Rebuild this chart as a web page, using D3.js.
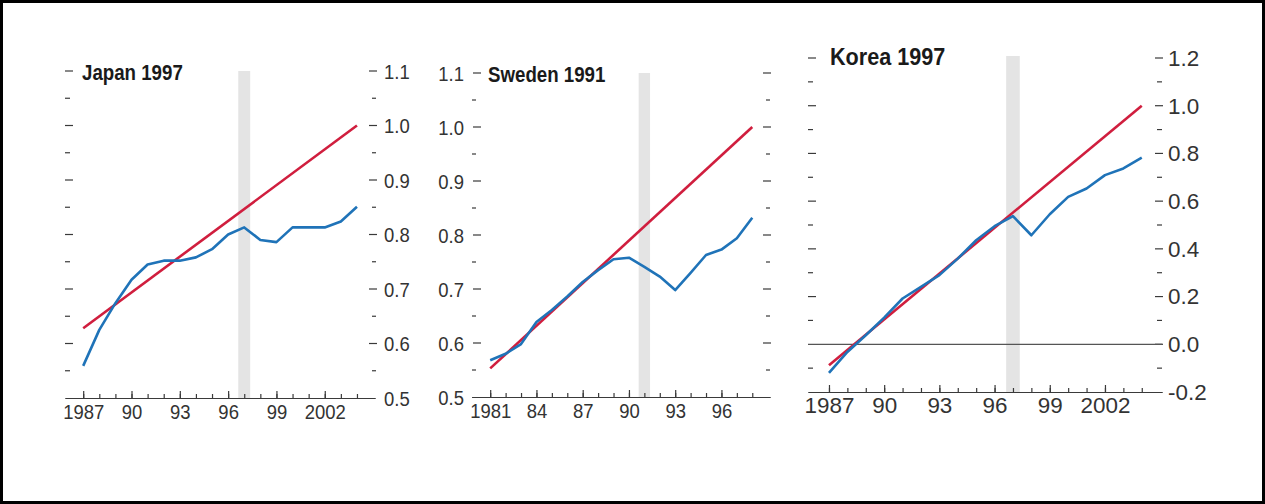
<!DOCTYPE html>
<html>
<head>
<meta charset="utf-8">
<script src="https://cdn.jsdelivr.net/npm/d3@7"></script>
<style>
  html, body { margin: 0; padding: 0; background: #fff; }
  svg { display: block; }
  text { font-family: "Liberation Sans", Arial, sans-serif; }
</style>
</head>
<body>
<svg id="chart" width="1265" height="504"></svg>
<script>
// ---- Japan 1997 ----
const japanYears   = [1987,1988,1989,1990,1991,1992,1993,1994,1995,1996,1997,1998,1999,2000,2001,2002,2003,2004];
const japanActual  = [0.559,0.625,0.674,0.717,0.745,0.752,0.752,0.758,0.773,0.800,0.813,0.790,0.786,0.813,0.813,0.813,0.824,0.851];
const japanTrendYears = [1987, 2004];
const japanTrend      = [0.628, 1.0];
const japanXTicks     = [1987, 1990, 1993, 1996, 1999, 2002];
const japanXLabels    = ["1987", "90", "93", "96", "99", "2002"];
const japanYTicks     = [0.5, 0.6, 0.7, 0.8, 0.9, 1.0, 1.1];
const japanYLabels    = ["0.5", "0.6", "0.7", "0.8", "0.9", "1.0", "1.1"];

// ---- Sweden 1991 ----
const swedenYears  = [1981,1982,1983,1984,1985,1986,1987,1988,1989,1990,1991,1992,1993,1994,1995,1996,1997,1998];
const swedenActual = [0.568,0.580,0.598,0.639,0.661,0.686,0.713,0.735,0.755,0.758,0.741,0.723,0.698,0.730,0.763,0.773,0.794,0.832];
const swedenTrendYears = [1981, 1998];
const swedenTrend      = [0.553, 1.0];
const swedenXTicks     = [1981, 1984, 1987, 1990, 1993, 1996];
const swedenXLabels    = ["1981", "84", "87", "90", "93", "96"];
const swedenYTicks     = [0.5, 0.6, 0.7, 0.8, 0.9, 1.0, 1.1];
const swedenYLabels    = ["0.5", "0.6", "0.7", "0.8", "0.9", "1.0", "1.1"];

// ---- Korea 1997 ----
const koreaYears   = [1987,1988,1989,1990,1991,1992,1993,1994,1995,1996,1997,1998,1999,2000,2001,2002,2003,2004];
const koreaActual  = [-0.120,-0.032,0.038,0.112,0.192,0.241,0.290,0.359,0.436,0.495,0.537,0.457,0.545,0.618,0.653,0.709,0.737,0.782];
const koreaTrendYears = [1987, 2004];
const koreaTrend      = [-0.088, 1.0];
const koreaXTicks     = [1987, 1990, 1993, 1996, 1999, 2002];
const koreaXLabels    = ["1987", "90", "93", "96", "99", "2002"];
const koreaYTicks     = [-0.2, 0.0, 0.2, 0.4, 0.6, 0.8, 1.0, 1.2];
const koreaYLabels    = ["-0.2", "0.0", "0.2", "0.4", "0.6", "0.8", "1.0", "1.2"];

const RED = "#d01e3e", BLUE = "#1f73b8", SHADE = "#e4e4e4", INK = "#333", AXIS = "#3a3a3a";

const svg = d3.select("#chart");

// frame around the figure
svg.append("rect")
  .attr("x", 1.5).attr("y", 1.5).attr("width", 1262).attr("height", 501)
  .attr("fill", "#fff").attr("stroke", "#000").attr("stroke-width", 3);

function drawPanel(p) {
  const g = svg.append("g");
  const x = d3.scaleLinear().domain(p.xDomain).range(p.xRange);
  const y = d3.scaleLinear().domain(p.yDomain).range(p.yRange);
  const baseY = y(p.yDomain[0]);
  const sx = p.stretch;

  // crisis year band
  g.append("rect")
    .attr("x", x(p.crisis - 0.37))
    .attr("width", x(p.crisis + 0.37) - x(p.crisis - 0.37))
    .attr("y", y(p.yDomain[1]) - (p.bandExtra || 0))
    .attr("height", baseY - y(p.yDomain[1]) + (p.bandExtra || 0))
    .attr("fill", SHADE);

  // y dashes: major at labelled values, minor half-way between them
  const majors = p.yTicks;
  const minors = d3.pairs(majors).map(([a, b]) => (a + b) / 2);
  const dash = (vals, side, kind) => {
    const [x0, x1] = p[side][kind];
    g.selectAll(null).data(vals.filter(v => v !== p.yDomain[0] && !(p.skipLeftZero && side === "left" && v === 0)))
      .enter().append("line")
      .attr("x1", x0).attr("x2", x1)
      .attr("y1", d => y(d)).attr("y2", d => y(d))
      .attr("stroke", AXIS).attr("stroke-width", 1.2);
  };
  dash(majors, "left", "major"); dash(minors, "left", "minor");
  dash(majors, "right", "major"); dash(minors, "right", "minor");

  // zero line
  if (p.zeroLine) {
    g.append("line")
      .attr("x1", p.xRange[0]).attr("x2", p.xRange[1])
      .attr("y1", y(0)).attr("y2", y(0))
      .attr("stroke", "#555").attr("stroke-width", 1.2);
  }

  // y labels
  g.selectAll(null).data(majors).enter().append("text")
    .attr("transform", d => `translate(${p.yLabelX},${y(d)}) scale(${sx},1)`)
    .attr("dy", "0.36em")
    .attr("text-anchor", p.yLabelAnchor)
    .attr("font-size", p.tickFont)
    .attr("fill", INK)
    .text((d, i) => p.yLabels[i]);

  // x axis: yearly minor ticks, labelled major ticks
  const minorAxis = d3.axisBottom(x).tickValues(p.years).tickSize(-4).tickSizeOuter(0).tickFormat("");
  const majorAxis = d3.axisBottom(x).tickValues(p.xTicks).tickSize(-7).tickSizeOuter(0).tickPadding(p.xPad)
    .tickFormat((d, i) => p.xLabels[i]);
  const ax1 = g.append("g").attr("transform", `translate(0,${baseY})`).call(minorAxis);
  const ax2 = g.append("g").attr("transform", `translate(0,${baseY})`).call(majorAxis);
  [ax1, ax2].forEach(a => {
    a.select(".domain").attr("stroke", AXIS).attr("stroke-width", 1.2);
    a.selectAll(".tick line").attr("stroke", AXIS).attr("stroke-width", 1.2);
  });
  ax2.selectAll(".tick text")
    .attr("font-size", p.tickFont)
    .attr("font-family", null)
    .attr("fill", INK)
    .attr("transform", `scale(${sx},1)`);

  // trend line and actual series
  const line = d3.line().x(d => x(d[0])).y(d => y(d[1]));
  g.append("path")
    .datum(p.trendYears.map((yr, i) => [yr, p.trend[i]]))
    .attr("d", line).attr("fill", "none").attr("stroke", RED).attr("stroke-width", 2.6);
  g.append("path")
    .datum(p.years.map((yr, i) => [yr, p.actual[i]]))
    .attr("d", line).attr("fill", "none").attr("stroke", BLUE).attr("stroke-width", 2.6)
    .attr("stroke-linejoin", "round");

  // title
  g.append("text")
    .attr("transform", `translate(${p.titleX},${p.titleY}) scale(${p.titleStretch},1)`)
    .attr("font-size", p.titleFont).attr("font-weight", "bold").attr("fill", "#1a1a1a")
    .text(p.title);
}

drawPanel({
  title: "Japan 1997", titleX: 82, titleY: 80, titleFont: 22, titleStretch: 0.85,
  years: japanYears, actual: japanActual, trendYears: japanTrendYears, trend: japanTrend, crisis: 1997,
  xDomain: [1985.87, 2005.12], xRange: [65, 375], yDomain: [0.5, 1.1], yRange: [398, 71],
  xTicks: japanXTicks, xLabels: japanXLabels, yTicks: japanYTicks, yLabels: japanYLabels,
  left: { major: [65, 73], minor: [65, 70] }, right: { major: [369, 377], minor: [372, 376] },
  yLabelX: 384, yLabelAnchor: "start", tickFont: 21, xPad: 6, stretch: 0.88
});

drawPanel({
  title: "Sweden 1991", titleX: 488, titleY: 82, titleFont: 22, titleStretch: 0.85,
  years: swedenYears, actual: swedenActual, trendYears: swedenTrendYears, trend: swedenTrend, crisis: 1991,
  xDomain: [1979.8, 1999.15], xRange: [471.7, 770], yDomain: [0.5, 1.1], yRange: [397, 73],
  xTicks: swedenXTicks, xLabels: swedenXLabels, yTicks: swedenYTicks, yLabels: swedenYLabels,
  left: { major: [473, 481], minor: [472, 476] }, right: { major: [763, 771], minor: [766, 770] },
  yLabelX: 464, yLabelAnchor: "end", tickFont: 21, xPad: 6, stretch: 0.88
});

drawPanel({
  title: "Korea 1997", titleX: 830, titleY: 65, titleFont: 23, titleStretch: 0.94,
  years: koreaYears, actual: koreaActual, trendYears: koreaTrendYears, trend: koreaTrend, crisis: 1997,
  xDomain: [1985.86, 2005.1], xRange: [808, 1162], yDomain: [-0.2, 1.2], yRange: [392, 58], bandExtra: 2,
  xTicks: koreaXTicks, xLabels: koreaXLabels, yTicks: koreaYTicks, yLabels: koreaYLabels,
  left: { major: [808, 816], minor: [808, 813] }, right: { major: [1155, 1163], minor: [1157, 1162] },
  skipLeftZero: true, zeroLine: true,
  yLabelX: 1168, yLabelAnchor: "start", tickFont: 22, xPad: 5, stretch: 1.02
});
</script>
</body>
</html>
